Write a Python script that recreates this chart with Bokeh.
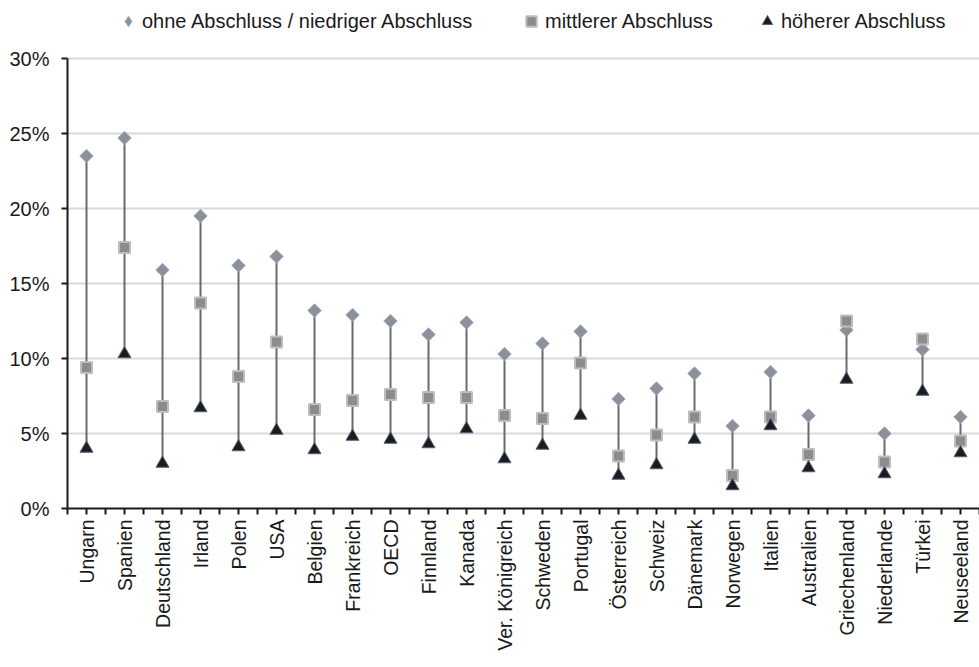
import numpy as np
from bokeh.plotting import figure
from bokeh.models import (FactorRange, Range1d, LinearAxis, CategoricalAxis, FixedTicker,
                          PrintfTickFormatter, CustomJSTickFormatter, Legend, LegendItem,
                          ColumnDataSource)
from bokeh.embed import file_html
from bokeh.resources import INLINE

countries = ["Ungarn", "Spanien", "Deutschland", "Irland", "Polen", "USA", "Belgien",
             "Frankreich", "OECD", "Finnland", "Kanada", "Ver. Königreich", "Schweden",
             "Portugal", "Österreich", "Schweiz", "Dänemark", "Norwegen", "Italien",
             "Australien", "Griechenland", "Niederlande", "Türkei", "Neuseeland"]
ohne = [23.5, 24.7, 15.9, 19.5, 16.2, 16.8, 13.2, 12.9, 12.5, 11.6, 12.4, 10.3,
        11.0, 11.8, 7.3, 8.0, 9.0, 5.5, 9.1, 6.2, 11.9, 5.0, 10.6, 6.1]
mittel = [9.4, 17.4, 6.8, 13.7, 8.8, 11.1, 6.6, 7.2, 7.6, 7.4, 7.4, 6.2,
          6.0, 9.7, 3.5, 4.9, 6.1, 2.2, 6.1, 3.6, 12.5, 3.1, 11.3, 4.5]
hoeher = [4.0, 10.3, 3.0, 6.7, 4.1, 5.2, 3.9, 4.8, 4.6, 4.3, 5.3, 3.3,
          4.2, 6.2, 2.2, 2.9, 4.6, 1.5, 5.5, 2.7, 8.6, 2.3, 7.8, 3.7]
y_ticks = [0, 5, 10, 15, 20, 25, 30]
labels = ["ohne Abschluss / niedriger Abschluss", "mittlerer Abschluss", "höherer Abschluss"]

FONT = "Liberation Sans"
TXT = "#1a1a1a"
Y_TOP = 30 + 58 / 15.0   # headroom above 30 % for the legend band

src = ColumnDataSource(dict(c=countries, ohne=ohne, mittel=mittel, hoeher=hoeher))

p = figure(width=979, height=667, x_range=FactorRange(*countries), y_range=Range1d(0, Y_TOP),
           output_backend="svg", toolbar_location=None, x_axis_location=None,
           y_axis_location=None, min_border_left=67, min_border_right=0,
           min_border_top=0, min_border_bottom=159)
p.outline_line_color = None
p.xgrid.visible = False
p.ygrid.ticker = FixedTicker(ticks=y_ticks[1:])
p.ygrid.grid_line_color = "#d9d9d9"
p.ygrid.grid_line_width = 2

# y axis
yax = LinearAxis(ticker=FixedTicker(ticks=y_ticks), formatter=PrintfTickFormatter(format="%d%%"),
                 bounds=(0, 30))
yax.axis_line_color = TXT
yax.axis_line_width = 2
yax.major_tick_line_color = TXT
yax.major_tick_line_width = 2
yax.major_tick_out = 6
yax.major_tick_in = 0
yax.minor_tick_line_color = None
yax.major_label_text_font = FONT
yax.major_label_text_font_size = "20px"
yax.major_label_text_color = TXT
yax.major_label_standoff = 12
p.add_layout(yax, "left")

# x axis: tick marks at category centres and boundaries (synthetic coordinates)
tax = LinearAxis(ticker=FixedTicker(ticks=[i * 0.5 for i in range(2 * len(countries) + 1)]),
                 formatter=CustomJSTickFormatter(code="return ''"))
tax.axis_line_color = TXT
tax.axis_line_width = 2
tax.major_tick_line_color = TXT
tax.major_tick_line_width = 2
tax.major_tick_out = 6
tax.major_tick_in = 0
tax.minor_tick_line_color = None
tax.major_label_text_font_size = "1px"
tax.major_label_standoff = 0
p.add_layout(tax, "below")

cax = CategoricalAxis()
cax.axis_line_color = None
cax.major_tick_line_color = None
cax.major_tick_out = 0
cax.major_tick_in = 0
cax.major_label_orientation = np.pi / 2
cax.major_label_text_font = FONT
cax.major_label_text_font_size = "19.5px"
cax.major_label_text_color = TXT
cax.major_label_standoff = 5
p.add_layout(cax, "below")

p.segment(x0="c", y0="hoeher", x1="c", y1="ohne", source=src, line_color="#6b6b6b", line_width=2)

r1 = p.scatter(x="c", y="ohne", source=src, marker="square", angle=np.pi / 4, size=9.5,
               fill_color="#8e9097", line_color="#9aaacb", line_width=1)
r2 = p.scatter(x="c", y="mittel", source=src, marker="square", size=11,
               fill_color="#8c8c8c", line_color="#bdbdbd", line_width=2)
r3 = p.scatter(x="c", y="hoeher", source=src, marker="triangle", size=13,
               fill_color="#1c1c1c", line_color="#52607c", line_width=1)

# legend swatch for the diamond series (legend glyphs are not rotated); its point is not drawn
r1_key = p.scatter(x=[countries[0]], y=[float("nan")], marker="diamond", size=9.5,
                   fill_color="#8e9097", line_color="#9aaacb", line_width=1)

for rend, lab, lx in [(r1_key, labels[0], 48), (r2, labels[1], 451), (r3, labels[2], 687)]:
    lg = Legend(items=[LegendItem(label=lab, renderers=[rend])], location=(lx, 474))
    lg.border_line_color = None
    lg.background_fill_alpha = 0
    lg.padding = 0
    lg.margin = 0
    lg.spacing = 0
    lg.glyph_width = 26
    lg.glyph_height = 26
    lg.label_standoff = 1
    lg.label_height = 20
    lg.label_text_font = FONT
    lg.label_text_font_size = "20px"
    lg.label_text_color = TXT
    p.add_layout(lg, "center")

open("out.html", "w").write(file_html(p, INLINE))
